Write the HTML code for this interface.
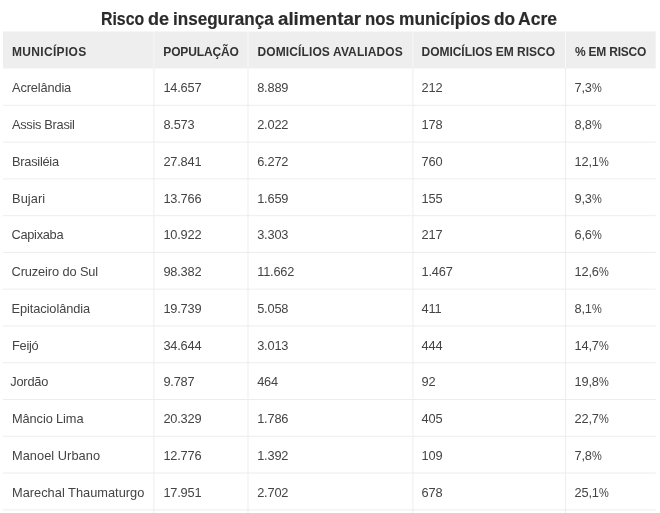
<!DOCTYPE html>
<html lang="pt-BR">
<head>
<meta charset="utf-8">
<title>Risco de insegurança alimentar nos municípios do Acre</title>
<style>
html,body{margin:0;padding:0;background:#fff;}
body{width:660px;height:513px;overflow:hidden;position:relative;font-family:"Liberation Sans",sans-serif;color:#444;}
svg.grid{position:absolute;left:0;top:0;}
.txt{position:absolute;left:0;top:0;width:660px;height:513px;will-change:transform;filter:blur(0.3px);}
h1{position:absolute;left:0;top:8px;width:660px;height:22px;margin:0;font-size:18.3px;line-height:22px;font-weight:700;color:#2b2b2b;white-space:nowrap;}
h1 span{position:absolute;top:0;transform-origin:0 0;-webkit-text-stroke:0.18px #2b2b2b;}
.hd,.r{position:absolute;left:0;width:660px;}
.hd{top:31.6px;height:36.6px;}
.hd div{position:absolute;top:0;height:36.6px;line-height:40.0px;font-size:12px;font-weight:700;color:#333;white-space:nowrap;}
.r{height:36.77px;}
.r div{position:absolute;top:0;height:36.77px;line-height:40.4px;font-size:12.8px;white-space:nowrap;letter-spacing:-0.2px;}
.r div.c1{font-size:12.8px;}
.p{display:inline-block;transform:scaleX(0.86);transform-origin:0 50%;}
.c2{left:163.4px;}
.c3{left:257.2px;}
.c4{left:421.6px;}
.c5{left:574.6px;}
</style>
</head>
<body>
<svg class="grid" width="660" height="513" viewBox="0 0 660 513">
<rect x="2.9" y="31.45" width="652.8" height="37.0" fill="#eeeeee"/>
<line x1="153.9" y1="31.45" x2="153.9" y2="68.4" stroke="#f8f8f8" stroke-width="0.92"/>
<line x1="153.9" y1="68.4" x2="153.9" y2="513" stroke="#ebebeb" stroke-width="0.92"/>
<line x1="248.0" y1="31.45" x2="248.0" y2="68.4" stroke="#f8f8f8" stroke-width="0.92"/>
<line x1="248.0" y1="68.4" x2="248.0" y2="513" stroke="#ebebeb" stroke-width="0.92"/>
<line x1="412.9" y1="31.45" x2="412.9" y2="68.4" stroke="#f8f8f8" stroke-width="0.92"/>
<line x1="412.9" y1="68.4" x2="412.9" y2="513" stroke="#ebebeb" stroke-width="0.92"/>
<line x1="565.5" y1="31.45" x2="565.5" y2="68.4" stroke="#f8f8f8" stroke-width="0.92"/>
<line x1="565.5" y1="68.4" x2="565.5" y2="513" stroke="#ebebeb" stroke-width="0.92"/>
<line x1="2.9" y1="105.35" x2="655.7" y2="105.35" stroke="#ebebeb" stroke-width="0.92"/>
<line x1="2.9" y1="142.12" x2="655.7" y2="142.12" stroke="#ebebeb" stroke-width="0.92"/>
<line x1="2.9" y1="178.89" x2="655.7" y2="178.89" stroke="#ebebeb" stroke-width="0.92"/>
<line x1="2.9" y1="215.66" x2="655.7" y2="215.66" stroke="#ebebeb" stroke-width="0.92"/>
<line x1="2.9" y1="252.43" x2="655.7" y2="252.43" stroke="#ebebeb" stroke-width="0.92"/>
<line x1="2.9" y1="289.20" x2="655.7" y2="289.20" stroke="#ebebeb" stroke-width="0.92"/>
<line x1="2.9" y1="325.97" x2="655.7" y2="325.97" stroke="#ebebeb" stroke-width="0.92"/>
<line x1="2.9" y1="362.74" x2="655.7" y2="362.74" stroke="#ebebeb" stroke-width="0.92"/>
<line x1="2.9" y1="399.51" x2="655.7" y2="399.51" stroke="#ebebeb" stroke-width="0.92"/>
<line x1="2.9" y1="436.28" x2="655.7" y2="436.28" stroke="#ebebeb" stroke-width="0.92"/>
<line x1="2.9" y1="473.05" x2="655.7" y2="473.05" stroke="#ebebeb" stroke-width="0.92"/>
<line x1="2.9" y1="509.82" x2="655.7" y2="509.82" stroke="#ebebeb" stroke-width="0.92"/>
</svg>
<div class="txt">
<h1><span style="left:101.33px;transform:scaleX(0.8667)">Risco</span> <span style="left:148.11px;transform:scaleX(0.9850)">de</span> <span style="left:173.17px;transform:scaleX(0.9346)">insegurança</span> <span style="left:278.38px;transform:scaleX(1.0225)">alimentar</span> <span style="left:365.38px;transform:scaleX(0.9161)">nos</span> <span style="left:399.25px;transform:scaleX(0.9474)">municípios</span> <span style="left:494.20px;transform:scaleX(0.9452)">do</span> <span style="left:518.44px;transform:scaleX(0.9590)">Acre</span></h1>
<div class="hd"><div class="c1" style="left:11.90px;letter-spacing:0.333px">MUNICÍPIOS</div><div class="c2" style="left:163.30px;letter-spacing:-0.138px">POPULAÇÃO</div><div class="c3" style="left:257.50px;letter-spacing:0.116px">DOMICÍLIOS AVALIADOS</div><div class="c4" style="left:421.50px;letter-spacing:-0.028px">DOMICÍLIOS EM RISCO</div><div class="c5" style="left:575.00px;letter-spacing:-0.222px">% EM RISCO</div></div>
<div class="r" style="top:68.20px"><div class="c1" style="left:12.00px;letter-spacing:-0.139px">Acrelândia</div><div class="c2">14.657</div><div class="c3">8.889</div><div class="c4">212</div><div class="c5">7,3<span class="p">%</span></div></div>
<div class="r" style="top:104.97px"><div class="c1" style="left:12.00px;letter-spacing:-0.295px">Assis Brasil</div><div class="c2">8.573</div><div class="c3">2.022</div><div class="c4">178</div><div class="c5">8,8<span class="p">%</span></div></div>
<div class="r" style="top:141.74px"><div class="c1" style="left:12.00px;letter-spacing:-0.250px">Brasiléia</div><div class="c2">27.841</div><div class="c3">6.272</div><div class="c4">760</div><div class="c5">12,1<span class="p">%</span></div></div>
<div class="r" style="top:178.51px"><div class="c1" style="left:12.00px;letter-spacing:0.100px">Bujari</div><div class="c2">13.766</div><div class="c3">1.659</div><div class="c4">155</div><div class="c5">9,3<span class="p">%</span></div></div>
<div class="r" style="top:215.28px"><div class="c1" style="left:11.50px;letter-spacing:-0.286px">Capixaba</div><div class="c2">10.922</div><div class="c3">3.303</div><div class="c4">217</div><div class="c5">6,6<span class="p">%</span></div></div>
<div class="r" style="top:252.05px"><div class="c1" style="left:11.50px;letter-spacing:-0.107px">Cruzeiro do Sul</div><div class="c2">98.382</div><div class="c3">11.662</div><div class="c4">1.467</div><div class="c5">12,6<span class="p">%</span></div></div>
<div class="r" style="top:288.82px"><div class="c1" style="left:11.50px;letter-spacing:-0.077px">Epitaciolândia</div><div class="c2">19.739</div><div class="c3">5.058</div><div class="c4">411</div><div class="c5">8,1<span class="p">%</span></div></div>
<div class="r" style="top:325.59px"><div class="c1" style="left:12.00px;letter-spacing:-0.250px">Feijó</div><div class="c2">34.644</div><div class="c3">3.013</div><div class="c4">444</div><div class="c5">14,7<span class="p">%</span></div></div>
<div class="r" style="top:362.36px"><div class="c1" style="left:10.25px;letter-spacing:-0.200px">Jordão</div><div class="c2">9.787</div><div class="c3">464</div><div class="c4">92</div><div class="c5">19,8<span class="p">%</span></div></div>
<div class="r" style="top:399.13px"><div class="c1" style="left:12.00px;letter-spacing:-0.100px">Mâncio Lima</div><div class="c2">20.329</div><div class="c3">1.786</div><div class="c4">405</div><div class="c5">22,7<span class="p">%</span></div></div>
<div class="r" style="top:435.90px"><div class="c1" style="left:12.00px;letter-spacing:0.042px">Manoel Urbano</div><div class="c2">12.776</div><div class="c3">1.392</div><div class="c4">109</div><div class="c5">7,8<span class="p">%</span></div></div>
<div class="r" style="top:472.67px"><div class="c1" style="left:12.00px;letter-spacing:0.013px">Marechal Thaumaturgo</div><div class="c2">17.951</div><div class="c3">2.702</div><div class="c4">678</div><div class="c5">25,1<span class="p">%</span></div></div>
</div>
</body>
</html>
